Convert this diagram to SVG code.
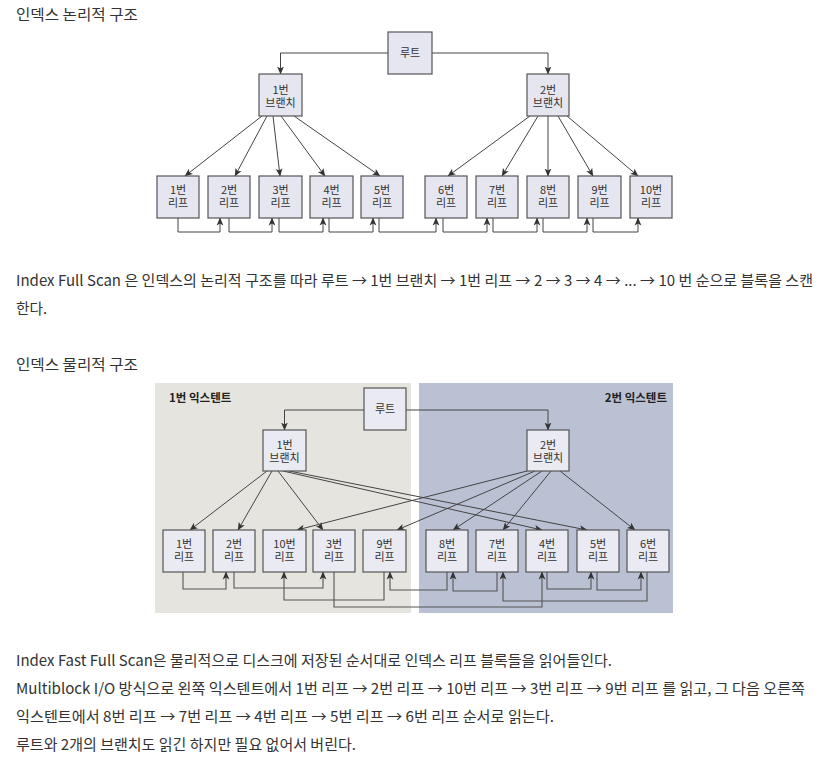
<svg xmlns="http://www.w3.org/2000/svg" width="828" height="757" viewBox="0 0 828 757">
<defs>
<marker id="ah" viewBox="0 0 8 8" markerWidth="8" markerHeight="8" refX="7.5" refY="4" orient="auto" markerUnits="userSpaceOnUse">
<path d="M0,0.6 L8,4 L0,7.4 L2,4 z" fill="#333"/>
</marker>
</defs>
<style>
.body{font-family:"Noto Sans CJK KR","Noto Sans",sans-serif;font-size:15px;fill:#333}
.box{fill:#e6e6f0;stroke:#555;stroke-width:1.2}
.box2{fill:#e9eaf2;stroke:#555;stroke-width:1.2}
.lbl{font-family:"Noto Sans CJK KR","Noto Sans",sans-serif;font-size:11px;fill:#333;text-anchor:middle}
.ext{font-family:"Noto Sans CJK KR","Noto Sans",sans-serif;font-size:11.5px;font-weight:bold;fill:#222}
.ln{fill:none;stroke:#444;stroke-width:1;marker-end:url(#ah)}
.ln2{fill:none;stroke:#555;stroke-width:1.1;marker-end:url(#ah)}
</style>
<rect width="828" height="757" fill="#fff"/>

<g id="texts">
<text class="body" x="16" y="19.5" textLength="122" lengthAdjust="spacingAndGlyphs">인덱스 논리적 구조</text>
<text class="body" x="16" y="286" textLength="797" lengthAdjust="spacingAndGlyphs">Index Full Scan 은 인덱스의 논리적 구조를 따라 루트 → 1번 브랜치 → 1번 리프 → 2 → 3 → 4 → ... → 10 번 순으로 블록을 스캔</text>
<text class="body" x="16" y="314" textLength="31" lengthAdjust="spacingAndGlyphs">한다.</text>
<text class="body" x="16" y="370" textLength="122" lengthAdjust="spacingAndGlyphs">인덱스 물리적 구조</text>
<text class="body" x="16" y="666" textLength="596" lengthAdjust="spacingAndGlyphs">Index Fast Full Scan은 물리적으로 디스크에 저장된 순서대로 인덱스 리프 블록들을 읽어들인다.</text>
<text class="body" x="16" y="694" textLength="789" lengthAdjust="spacingAndGlyphs">Multiblock I/O 방식으로 왼쪽 익스텐트에서 1번 리프 → 2번 리프 → 10번 리프 → 3번 리프 → 9번 리프 를 읽고, 그 다음 오른쪽</text>
<text class="body" x="16" y="722" textLength="538" lengthAdjust="spacingAndGlyphs">익스텐트에서 8번 리프 → 7번 리프 → 4번 리프 → 5번 리프 → 6번 리프 순서로 읽는다.</text>
<text class="body" x="16" y="750" textLength="340" lengthAdjust="spacingAndGlyphs">루트와 2개의 브랜치도 읽긴 하지만 필요 없어서 버린다.</text>
</g>

<!-- Logical structure -->
<g id="logical-connectors">
<polyline class="ln" points="388,53 280.5,53 280.5,74"/>
<polyline class="ln" points="432,53 548,53 548,74"/>
<line class="ln" x1="262" y1="116" x2="185" y2="176"/>
<line class="ln" x1="267" y1="116" x2="235" y2="176"/>
<line class="ln" x1="273" y1="116" x2="280" y2="176"/>
<line class="ln" x1="281" y1="116" x2="325" y2="176"/>
<line class="ln" x1="294" y1="116" x2="380" y2="176"/>
<line class="ln" x1="530" y1="116" x2="448" y2="176"/>
<line class="ln" x1="538" y1="116" x2="502" y2="176"/>
<line class="ln" x1="548" y1="116" x2="548" y2="176"/>
<line class="ln" x1="558" y1="116" x2="593" y2="176"/>
<line class="ln" x1="567" y1="116" x2="638" y2="176"/>
<polyline class="ln" points="178,218 178,232 220,232 220,218"/>
<polyline class="ln" points="229,218 229,232 272,232 272,218"/>
<polyline class="ln" points="279,218 279,232 323,232 323,218"/>
<polyline class="ln" points="329,218 329,232 373,232 373,218"/>
<polyline class="ln" points="379,218 379,232 436,232 436,218"/>
<polyline class="ln" points="443,218 443,232 487,232 487,218"/>
<polyline class="ln" points="493,218 493,232 537,232 537,218"/>
<polyline class="ln" points="543,218 543,232 587,232 587,218"/>
<polyline class="ln" points="593,218 593,232 638,232 638,218"/>
</g>

<g id="l-root"><rect class="box" x="388" y="32" width="44" height="42"/><text class="lbl" x="410" y="57">루트</text></g>
<g id="l-branch1"><rect class="box" x="259" y="74" width="43" height="42"/><text class="lbl" x="280.5" y="94">1번<tspan x="280.5" dy="13">브랜치</tspan></text></g>
<g id="l-branch2"><rect class="box" x="527" y="74" width="42" height="42"/><text class="lbl" x="548" y="94">2번<tspan x="548" dy="13">브랜치</tspan></text></g>
<g id="l-leaf1"><rect class="box" x="157" y="176" width="42" height="42"/><text class="lbl" x="178" y="194">1번<tspan x="178" dy="13">리프</tspan></text></g>
<g id="l-leaf2"><rect class="box" x="208" y="176" width="42" height="42"/><text class="lbl" x="229" y="194">2번<tspan x="229" dy="13">리프</tspan></text></g>
<g id="l-leaf3"><rect class="box" x="259" y="176" width="43" height="42"/><text class="lbl" x="280.5" y="194">3번<tspan x="280.5" dy="13">리프</tspan></text></g>
<g id="l-leaf4"><rect class="box" x="310" y="176" width="43" height="42"/><text class="lbl" x="331.5" y="194">4번<tspan x="331.5" dy="13">리프</tspan></text></g>
<g id="l-leaf5"><rect class="box" x="361" y="176" width="42" height="42"/><text class="lbl" x="382" y="194">5번<tspan x="382" dy="13">리프</tspan></text></g>
<g id="l-leaf6"><rect class="box" x="425" y="176" width="42" height="42"/><text class="lbl" x="446" y="194">6번<tspan x="446" dy="13">리프</tspan></text></g>
<g id="l-leaf7"><rect class="box" x="476" y="176" width="42" height="42"/><text class="lbl" x="497" y="194">7번<tspan x="497" dy="13">리프</tspan></text></g>
<g id="l-leaf8"><rect class="box" x="527" y="176" width="42" height="42"/><text class="lbl" x="548" y="194">8번<tspan x="548" dy="13">리프</tspan></text></g>
<g id="l-leaf9"><rect class="box" x="578" y="176" width="43" height="42"/><text class="lbl" x="599.5" y="194">9번<tspan x="599.5" dy="13">리프</tspan></text></g>
<g id="l-leaf10"><rect class="box" x="630" y="176" width="42" height="42"/><text class="lbl" x="651" y="194">10번<tspan x="651" dy="13">리프</tspan></text></g>

<!-- Physical structure -->
<g id="extents">
<rect x="155" y="383" width="256" height="230" fill="#e6e4df"/>
<rect x="419" y="383" width="254" height="230" fill="#b9c1d3"/>
<text class="ext" x="169" y="402">1번 익스텐트</text>
<text class="ext" x="667" y="402" text-anchor="end">2번 익스텐트</text>
</g>

<g id="physical-connectors">
<polyline class="ln" points="364,410 284.5,410 284.5,430"/>
<polyline class="ln" points="406,410 548,410 548,430"/>
<line class="ln" x1="267" y1="471" x2="190" y2="530"/>
<line class="ln" x1="272" y1="471" x2="238" y2="530"/>
<line class="ln" x1="278" y1="471" x2="323" y2="530"/>
<line class="ln" x1="283" y1="471" x2="542" y2="530"/>
<line class="ln" x1="289" y1="471" x2="587" y2="530"/>
<line class="ln" x1="527" y1="471" x2="297" y2="530"/>
<line class="ln" x1="535" y1="471" x2="397" y2="530"/>
<line class="ln" x1="542" y1="471" x2="453" y2="530"/>
<line class="ln" x1="551" y1="471" x2="503" y2="530"/>
<line class="ln" x1="560" y1="471" x2="635" y2="530"/>
<polyline class="ln2" points="183,572 183,589 226,589 226,572"/>
<polyline class="ln2" points="234,572 234,588 323,588 323,572"/>
<polyline class="ln2" points="334,572 334,607 542,607 542,572"/>
<polyline class="ln2" points="547,572 547,589 591,589 591,572"/>
<polyline class="ln2" points="597,572 597,590 641,590 641,572"/>
<polyline class="ln2" points="647,572 647,601 503,601 503,572"/>
<polyline class="ln2" points="497,572 497,591 453,591 453,572"/>
<polyline class="ln2" points="447,572 447,590 390,590 390,572"/>
<polyline class="ln2" points="384,572 384,600 284,600 284,572"/>
</g>

<g id="p-root"><rect class="box2" x="364" y="388" width="42" height="42"/><text class="lbl" x="385" y="413">루트</text></g>
<g id="p-branch1"><rect class="box2" x="263" y="430" width="43" height="41"/><text class="lbl" x="284.5" y="449">1번<tspan x="284.5" dy="13">브랜치</tspan></text></g>
<g id="p-branch2"><rect class="box2" x="527" y="430" width="42" height="41"/><text class="lbl" x="548" y="449">2번<tspan x="548" dy="13">브랜치</tspan></text></g>
<g id="p-leaf1"><rect class="box2" x="163" y="530" width="42" height="42"/><text class="lbl" x="184" y="548">1번<tspan x="184" dy="13">리프</tspan></text></g>
<g id="p-leaf2"><rect class="box2" x="213" y="530" width="42" height="42"/><text class="lbl" x="234" y="548">2번<tspan x="234" dy="13">리프</tspan></text></g>
<g id="p-leaf10"><rect class="box2" x="263" y="530" width="43" height="42"/><text class="lbl" x="284.5" y="548">10번<tspan x="284.5" dy="13">리프</tspan></text></g>
<g id="p-leaf3"><rect class="box2" x="313" y="530" width="42" height="42"/><text class="lbl" x="334" y="548">3번<tspan x="334" dy="13">리프</tspan></text></g>
<g id="p-leaf9"><rect class="box2" x="363" y="530" width="43" height="42"/><text class="lbl" x="384.5" y="548">9번<tspan x="384.5" dy="13">리프</tspan></text></g>
<g id="p-leaf8"><rect class="box2" x="426" y="530" width="42" height="42"/><text class="lbl" x="447" y="548">8번<tspan x="447" dy="13">리프</tspan></text></g>
<g id="p-leaf7"><rect class="box2" x="476" y="530" width="42" height="42"/><text class="lbl" x="497" y="548">7번<tspan x="497" dy="13">리프</tspan></text></g>
<g id="p-leaf4"><rect class="box2" x="526" y="530" width="42" height="42"/><text class="lbl" x="547" y="548">4번<tspan x="547" dy="13">리프</tspan></text></g>
<g id="p-leaf5"><rect class="box2" x="577" y="530" width="42" height="42"/><text class="lbl" x="598" y="548">5번<tspan x="598" dy="13">리프</tspan></text></g>
<g id="p-leaf6"><rect class="box2" x="627" y="530" width="42" height="42"/><text class="lbl" x="648" y="548">6번<tspan x="648" dy="13">리프</tspan></text></g>
</svg>
